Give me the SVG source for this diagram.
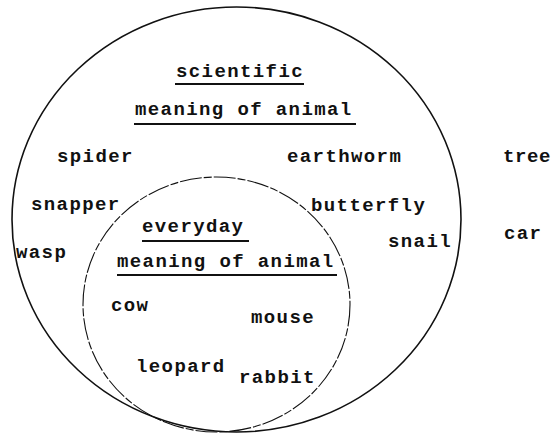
<svg xmlns="http://www.w3.org/2000/svg" width="552" height="435" viewBox="0 0 552 435">
<style>
text{font-family:"Liberation Mono","Courier New",monospace;font-size:19px;font-weight:bold;letter-spacing:1.4px;fill:#111}
.outer{fill:none;stroke:#111;stroke-width:1.6}
.inner{fill:none;stroke:#111;stroke-width:1.1;stroke-dasharray:22 2 8 2}
.ul{stroke:#111;stroke-width:1.8}
</style>
<rect width="552" height="435" fill="#fff"/>
<g id="scientific">
<ellipse class="outer" cx="236.5" cy="219.5" rx="224.5" ry="212.5"/>
<text x="176" y="77">scientific</text>
<line class="ul" x1="175" y1="84" x2="304" y2="84"/>
<text x="135" y="115">meaning of animal</text>
<line class="ul" x1="134" y1="124" x2="356" y2="124"/>
<text x="57" y="162">spider</text>
<text x="287" y="162">earthworm</text>
<text x="31" y="210">snapper</text>
<text x="311" y="211">butterfly</text>
<text x="16" y="258">wasp</text>
<text x="388" y="247">snail</text>
</g>
<g id="everyday">
<ellipse class="inner" cx="216.5" cy="304.5" rx="133.5" ry="127.5"/>
<text x="142" y="232">everyday</text>
<line class="ul" x1="142" y1="241" x2="249" y2="241"/>
<text x="117" y="267">meaning of animal</text>
<line class="ul" x1="117" y1="275" x2="337" y2="275"/>
<text x="111" y="311">cow</text>
<text x="251" y="323">mouse</text>
<text x="136" y="372">leopard</text>
<text x="239" y="383">rabbit</text>
</g>
<g id="outside">
<text x="503" y="162" style="letter-spacing:0.6px">tree</text>
<text x="504" y="239">car</text>
</g>
<g id="connectors"/>
</svg>
